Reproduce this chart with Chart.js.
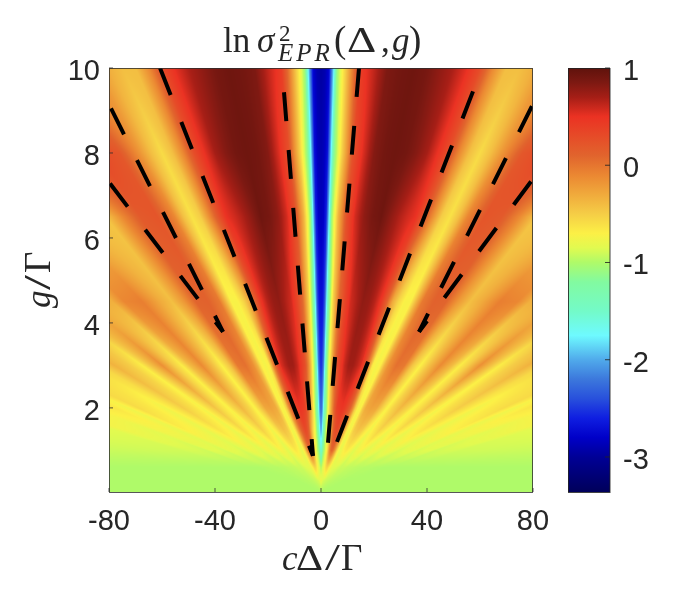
<!DOCTYPE html>
<html>
<head>
<meta charset="utf-8">
<style>
  body { margin: 0; background: #fff; }
  canvas { display: block; }
</style>
<script src="https://cdn.jsdelivr.net/npm/chart.js@4"></script>
</head>
<body>
<canvas id="chart" width="680" height="595"></canvas>
<script>
var xTicks = [-80, -40, 0, 40, 80];
var yTicks = [2, 4, 6, 8, 10];
var barTicks = [-3, -2, -1, 0, 1];

// the map is a fan: cells are read along rays, |c delta / gamma| / (g / gamma)
var rayCols = [0, .15, .3, .45, .6, .8, 1, 1.25, 1.5, 2, 2.5, 3, 3.5, 4, 4.5, 5, 5.5, 6, 6.5, 7, 7.5, 8, 8.5,
  9.5, 10.5, 11.5, 12.5, 13.5, 15, 16.5, 17.5, 18.5, 20, 21.5, 22.5, 24, 26, 28, 29.5, 32, 34.5, 36.5, 39,
  41.5, 43.5, 47, 50, 53, 60, 80, 150, 5000];
var gLevels = [0.02, 0.3, 0.6, 1, 1.5, 2, 3, 4.5, 6.5, 8, 10];

// values per g level, rows stop where the ray has left the frame
var g002 = [-1, -1];
var g03 = [-.78, -.78, -.79, -.8, -.8, -.81, -.82, -.83, -.84, -.85, -.86, -.87, -.88, -.88, -.89, -.9, -.9, -.91, -.91, -.92, -.92, -.93, -.93,
  -.94, -.95, -.95, -.96, -.96, -.97, -.97, -.98, -.98, -.98, -.98, -.99, -.99, -.99, -1, -1, -1, -1, -1, -1, -1, -1, -1, -1, -1, -1, -1, -1, -1];
var g06 = [-.98, -.98, -.95, -.92, -.9, -.88, -.85, -.82, -.8, -.72, -.66, -.6, -.55, -.55, -.6, -.66, -.72, -.76, -.8, -.82, -.84, -.84, -.85,
  -.86, -.88, -.9, -.92, -.92, -.92, -.94, -.94, -.95, -.95, -.96, -.96, -.97, -.97, -.98, -.98, -.98, -.99, -.99, -1, -1, -1, -1, -1, -1, -1, -1, -1, -1];
var g1 = [-1.55, -1.5, -1.4, -1.3, -1.2, -1.15, -1.05, -1, -.9, -.75, -.5, -.2, .02, .1, .05, -.1, -.3, -.55, -.7, -.8, -.8, -.75, -.7,
  -.65, -.7, -.78, -.85, -.78, -.72, -.8, -.85, -.8, -.76, -.82, -.86, -.82, -.78, -.84, -.88, -.84, -.82, -.88, -.85, -.85, -.9, -.88, -.88, -.9, -.9, -.92, -.95, -.95];
var g15 = [-2, -1.95, -1.8, -1.6, -1.4, -1.25, -1.1, -.95, -.8, -.55, -.25, .1, .28, .33, .25, .12, -.05, -.3, -.6, -.75, -.75, -.6, -.48,
  -.42, -.48, -.65, -.76, -.66, -.52, -.66, -.76, -.7, -.58, -.7, -.78, -.7, -.62, -.72, -.8, -.72, -.68, -.8, -.74, -.74, -.82, -.78, -.76, -.84];
var g2 = [-2.3, -2.2, -2, -1.75, -1.4, -1.25, -1.1, -.85, -.6, -.2, .15, .4, .45, .48, .42, .3, .15, -.1, -.5, -.72, -.72, -.45, -.3,
  -.25, -.28, -.5, -.72, -.55, -.38, -.55, -.72, -.62, -.45, -.62, -.74, -.62, -.5, -.65, -.76, -.65, -.58, -.76, -.64, -.68];
var g3 = [-2.55, -2.45, -2.2, -1.8, -1.35, -1.05, -.8, -.45, -.15, .28, .45, .62, .72, .72, .65, .55, .3, -.1, -.68, -.75, -.68, -.35, -.15,
  .03, -.02, -.45, -.7, -.45, -.12, -.4, -.68, -.5, -.15, -.45, -.68, -.5, -.35, -.55];
var g45 = [-2.7, -2.65, -2.4, -1.85, -1.3, -.95, -.55, -.25, .05, .35, .58, .68, .78, .75, .65, .48, .15, -.3, -.55, -.72, -.72, -.35, -.02,
  .12, .1, -.2, -.42, -.3, -.05, -.1, -.33];
var g65 = [-2.85, -2.8, -2.6, -1.85, -1.1, -.72, -.35, -.05, .28, .58, .78, .88, .92, .8, .68, .58, .5, .2, -.15, -.5, -.62, -.42, -.1,
  .22, .18, -.1, -.45];
var g8 = [-2.9, -2.85, -2.7, -1.9, -1.2, -.85, -.5, -.15, .25, .55, .82, .9, .92, .9, .82, .7, .5, .28, -.1, -.42, -.58, -.42, -.2,
  .2, .32];
var g10 = [-2.95, -2.9, -2.75, -1.95, -1.1, -.72, -.38, .05, .42, .62, .85, .9, .92, .88, .78, .68, .52, .3, -.12, -.42, -.42, -.33, -.2];
var heatRows = [g002, g03, g06, g1, g15, g2, g3, g45, g65, g8, g10];

// colour bar
var barValues = [-3.36, -3, -2.8, -2.6, -2.4, -2.2, -2, -1.75, -1.5, -1.2, -1, -.85, -.7, -.5, -.3, -.1, .1, .3, .5, .7, .85, 1];
var barColors = [[0,0,90], [0,0,150], [0,0,200], [15,30,225], [40,80,220], [60,120,220], [80,170,235], [110,250,255], [115,250,200],
  [130,250,160], [175,250,105], [225,250,80], [252,240,70], [245,205,70], [240,170,60], [235,135,50], [225,100,45], [230,75,40],
  [235,50,35], [165,30,22], [125,25,18], [95,18,12]];

// dashed guides, [delta, g]
var guideL1 = [{x: -13.96, y: 9.43}, {x: -3.02, y: 0.87}];
var guideL2 = [{x: -60.75, y: 10}, {x: -3.02, y: 0.87}];
var guideL3 = [{x: -79.25, y: 9.05}, {x: -36.98, y: 3.79}];
var guideL4 = [{x: -79.6, y: 7.28}, {x: -36.98, y: 3.79}];
var guideR1 = [{x: 14.34, y: 10}, {x: 2.64, y: 1.18}];
var guideR2 = [{x: 57.36, y: 9.45}, {x: 6.04, y: 1.2}];
var guideR3 = [{x: 79.6, y: 9.1}, {x: 36.98, y: 3.79}];
var guideR4 = [{x: 79.25, y: 7.33}, {x: 36.98, y: 3.79}];

function findCell(list, v) {
    var i = 0;
    while (i < list.length - 2 && list[i + 1] < v) i++;
    return i;
}

function colorOf(v) {
    var i = findCell(barValues, v);
    var t = (v - barValues[i]) / (barValues[i + 1] - barValues[i]);
    t = Math.max(0, Math.min(1, t));
    var a = barColors[i], b = barColors[i + 1];
    return [a[0] + (b[0] - a[0]) * t, a[1] + (b[1] - a[1]) * t, a[2] + (b[2] - a[2]) * t];
}

function rowValue(row, j) {
    return j < row.length ? row[j] : row[row.length - 1];
}

function heatValue(ray, g) {
    var r = findCell(gLevels, g), c = findCell(rayCols, ray);
    var tr = Math.max(0, Math.min(1, (g - gLevels[r]) / (gLevels[r + 1] - gLevels[r])));
    var tc = Math.max(0, Math.min(1, (ray - rayCols[c]) / (rayCols[c + 1] - rayCols[c])));
    var low = rowValue(heatRows[r], c) * (1 - tc) + rowValue(heatRows[r], c + 1) * tc;
    var high = rowValue(heatRows[r + 1], c) * (1 - tc) + rowValue(heatRows[r + 1], c + 1) * tc;
    return low * (1 - tr) + high * tr;
}

var heatPlugin = {
    id: 'heat',
    beforeDatasetsDraw: function (chart) {
        var area = chart.chartArea, sx = chart.scales.x, sy = chart.scales.y;
        var w = Math.round(area.right - area.left), h = Math.round(area.bottom - area.top);
        var off = document.createElement('canvas');
        off.width = w;
        off.height = h;
        var octx = off.getContext('2d');
        var img = octx.createImageData(w, h);
        for (var py = 0; py < h; py++) {
            var g = sy.getValueForPixel(area.top + py + 0.5);
            for (var px = 0; px < w; px++) {
                var d = sx.getValueForPixel(area.left + px + 0.5);
                var col = colorOf(heatValue(Math.abs(d) / g, g));
                var k = (py * w + px) * 4;
                img.data[k] = col[0];
                img.data[k + 1] = col[1];
                img.data[k + 2] = col[2];
                img.data[k + 3] = 255;
            }
        }
        octx.putImageData(img, 0, 0);
        chart.ctx.drawImage(off, area.left, area.top);

        // colour bar
        var sb = chart.scales.bar, ctx = chart.ctx;
        var top = sb.getPixelForValue(1), bottom = sb.getPixelForValue(-3.36);
        var grad = ctx.createLinearGradient(0, bottom, 0, top);
        barValues.forEach(function (v, i) {
            var c = barColors[i];
            grad.addColorStop((v + 3.36) / 4.36, 'rgb(' + c[0] + ',' + c[1] + ',' + c[2] + ')');
        });
        ctx.fillStyle = grad;
        ctx.fillRect(568, top, 42, bottom - top);
    },
    afterDatasetsDraw: function (chart) {
        var ctx = chart.ctx, area = chart.chartArea, sx = chart.scales.x, sy = chart.scales.y, sb = chart.scales.bar;
        ctx.save();
        ctx.strokeStyle = 'rgba(45,45,45,0.8)';
        ctx.lineWidth = 1;
        ctx.strokeRect(area.left + 0.5, area.top + 0.5, area.right - area.left - 1, area.bottom - area.top);
        ctx.beginPath();
        xTicks.forEach(function (v) {
            var p = sx.getPixelForValue(v);
            ctx.moveTo(p, area.bottom);
            ctx.lineTo(p, area.bottom - 4);
        });
        yTicks.forEach(function (v) {
            var p = sy.getPixelForValue(v);
            ctx.moveTo(area.left, p);
            ctx.lineTo(area.left + 4, p);
        });
        ctx.stroke();

        ctx.strokeStyle = 'rgba(35,35,35,0.85)';
        var top = sb.getPixelForValue(1), bottom = sb.getPixelForValue(-3.36);
        ctx.strokeRect(568.5, top + 0.5, 41.5, bottom - top);
        ctx.beginPath();
        barTicks.forEach(function (v) {
            var p = sb.getPixelForValue(v);
            ctx.moveTo(610, p);
            ctx.lineTo(605, p);
        });
        ctx.stroke();
        ctx.restore();

        drawLabels(ctx);
    }
};

function put(ctx, text, font, x, y) {
    ctx.font = font;
    ctx.fillText(text, x, y);
}

// latex glyphs run wider than Liberation Serif
function putWide(ctx, text, font, x, y, stretch) {
    ctx.save();
    ctx.translate(x, y);
    ctx.scale(stretch, 1);
    put(ctx, text, font, 0, 0);
    ctx.restore();
}

function drawLabels(ctx) {
    var serif = '"Liberation Serif"';
    ctx.save();
    ctx.fillStyle = '#262626';
    ctx.textBaseline = 'alphabetic';
    ctx.textAlign = 'left';

    // title
    put(ctx, 'ln', '35px ' + serif, 223, 52);
    put(ctx, 'σ', 'italic 35px ' + serif, 257, 52);
    put(ctx, '2', '23px ' + serif, 279, 41);
    ctx.letterSpacing = '3px';
    put(ctx, 'EPR', 'italic 25px ' + serif, 278, 61);
    ctx.letterSpacing = '0px';
    put(ctx, '(', '37px ' + serif, 334, 52);
    putWide(ctx, 'Δ', '35px ' + serif, 347, 52, 1.3);
    put(ctx, ',', '35px ' + serif, 381, 52);
    put(ctx, 'g', 'italic 35px ' + serif, 392, 52);
    put(ctx, ')', '37px ' + serif, 409, 52);

    // x label
    put(ctx, 'c', 'italic 35px ' + serif, 282, 570);
    putWide(ctx, 'Δ', '35px ' + serif, 296, 570, 1.2);
    putWide(ctx, '/', '37px ' + serif, 325, 570, 1.45);
    put(ctx, 'Γ', '37px ' + serif, 341, 570);

    // y label
    ctx.translate(50, 308);
    ctx.rotate(-Math.PI / 2);
    put(ctx, 'g', 'italic 35px ' + serif, 0, 0);
    putWide(ctx, '/', '37px ' + serif, 18, 0, 1.45);
    put(ctx, 'Γ', '37px ' + serif, 35, 0);
    ctx.restore();
}

function setTicks(list) {
    return function (scale) {
        scale.ticks = list.map(function (v) { return {value: v}; });
    };
}

// pin the axis boxes so the frame lands where the reference has it
function fixSize(prop, size) {
    return function (scale) {
        scale[prop] = size;
        scale.paddingLeft = scale.paddingRight = scale.paddingTop = scale.paddingBottom = 0;
    };
}

function guide(points) {
    return {
        data: points, borderColor: '#000', borderWidth: 4, borderDash: [29, 29], borderCapStyle: 'butt',
        pointRadius: 0, tension: 0, fill: false, xAxisID: 'x', yAxisID: 'y'
    };
}

var tickFont = {family: '"Liberation Sans"', size: 29};
var ctx = document.getElementById('chart').getContext('2d');
var chart = new Chart(ctx, {
    type: 'line',
    data: {
        datasets: [guideL1, guideL2, guideL3, guideL4, guideR1, guideR2, guideR3, guideR4].map(guide)
    },
    plugins: [heatPlugin],
    options: {
        responsive: false,
        animation: false,
        devicePixelRatio: 1,
        layout: {padding: {top: 68, left: 0, right: 0, bottom: 0}},
        plugins: {legend: {display: false}, title: {display: false}, tooltip: {enabled: false}},
        scales: {
            x: {
                type: 'linear', min: -80, max: 80,
                grid: {display: false}, border: {display: false},
                afterBuildTicks: setTicks(xTicks),
                afterFit: fixSize('height', 103),
                ticks: {color: '#262626', font: tickFont, padding: 5, maxRotation: 0, autoSkip: false}
            },
            y: {
                type: 'linear', min: 0.02, max: 10,
                grid: {display: false}, border: {display: false},
                afterBuildTicks: setTicks(yTicks),
                afterFit: fixSize('width', 109),
                ticks: {color: '#262626', font: tickFont, padding: 1, labelOffset: 4, autoSkip: false}
            },
            bar: {
                type: 'linear', position: 'right', min: -3.36, max: 1,
                grid: {display: false}, border: {display: false},
                afterBuildTicks: setTicks(barTicks),
                afterFit: fixSize('width', 147),
                ticks: {color: '#262626', font: tickFont, padding: 82, labelOffset: 4, autoSkip: false,
                    callback: function (v) { return String(v); }}
            }
        }
    }
});
</script>
</body>
</html>
